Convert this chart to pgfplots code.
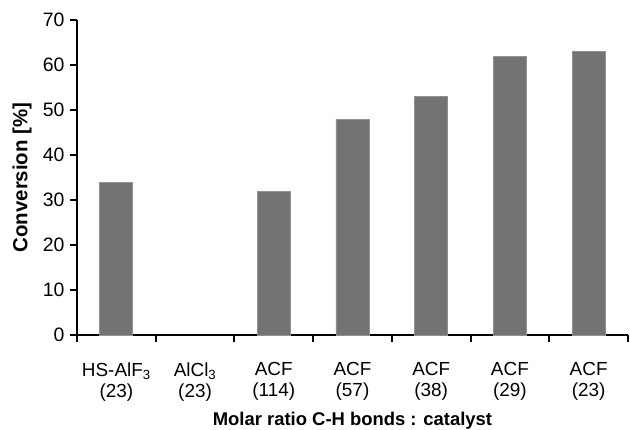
\documentclass[border=0pt]{standalone}
\usepackage{pgfplots}
\pgfplotsset{compat=1.18}
\usepackage{fontspec}
\setmainfont{Liberation Sans}
\definecolor{barfill}{RGB}{115,115,115}
\definecolor{baredge}{RGB}{145,145,145}
\begin{document}
\begin{tikzpicture}
\begin{axis}[
  scale only axis,
  width=551bp, height=315bp,
  xmin=0.5, xmax=7.5,
  ymin=0, ymax=70,
  ytick={0,10,...,70},
  axis x line=bottom, axis y line=left,
  axis line style={line width=2.2bp, -},
  x axis line style={-},
  y axis line style={-},
  xtick={1,...,7},
  xticklabels={{HS-AlF\textsubscript{3}\\(23)},{AlCl\textsubscript{3}\\(23)},{ACF\\(114)},{ACF\\(57)},{ACF\\(38)},{ACF\\(29)},{ACF\\(23)}},
  major x tick style={draw=none},
  minor xtick={0.5,1.5,...,7.5},
  minor x tick style={line width=2bp, black},
  minor tick length=7bp,
  major tick length=7bp,
  y tick style={line width=2bp, black},
  tick align=outside,
  x tick label style={align=center, font=\fontsize{19}{21}\selectfont, yshift=-17bp},
  y tick label style={font=\fontsize{19.5}{21}\selectfont, xshift=-2bp},
  /pgf/number format/assume math mode=true,
  xlabel={\textbf{Molar ratio C-H bonds : catalyst}},
  ylabel={\textbf{Conversion [\%]}},
  xlabel style={font=\fontsize{18.5}{20}\selectfont, at={(rel axis cs:0.5,0)}, anchor=base, yshift=-90bp},
  ylabel style={font=\fontsize{20.5}{20}\selectfont, at={(rel axis cs:0,0.5)}, anchor=center, yshift=55bp},
  ybar, bar width=33bp,
  clip=false,
]
\addplot[fill=barfill, draw=baredge, line width=0.8bp] coordinates {
  (1,34) (3,32) (4,48) (5,53) (6,62) (7,63)
};
\coordinate (O) at (rel axis cs:0,0);
\end{axis}
\pgfresetboundingbox
\path[use as bounding box] (O) ++(-77bp,-95bp) rectangle ++(630bp,430bp);
\end{tikzpicture}
\end{document}
